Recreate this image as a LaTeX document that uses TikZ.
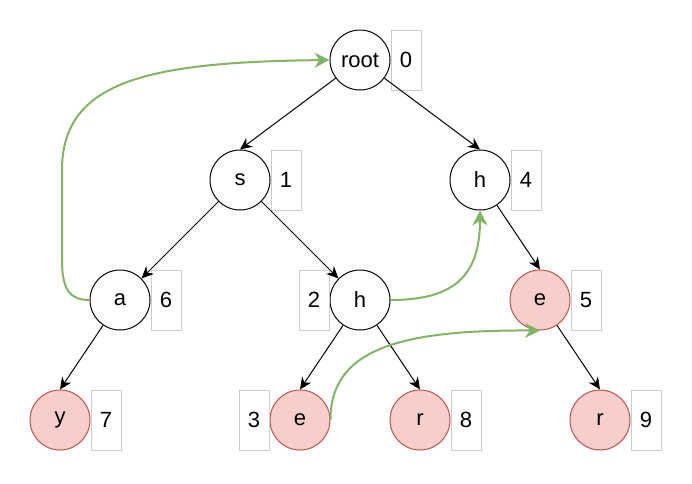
\documentclass[tikz,border=0pt]{standalone}
\usepackage{fontspec}
\setmainfont{Liberation Sans}
\usetikzlibrary{positioning, arrows.meta}

\begin{document}
\begin{tikzpicture}[x=1pt, y=-1pt, font=\fontsize{22}{26}\selectfont,
  trnode/.style={circle, draw, line width=1pt, minimum size=60pt, inner sep=0pt},
  endnode/.style={trnode, draw=endStroke, fill=endFill},
  idxbox/.style={rectangle, draw=idxGray, line width=1pt, minimum width=30pt, minimum height=60pt, inner sep=0pt},
  edge/.style={-{Stealth[length=12pt, width=11pt]}, line width=1pt},
  link/.style={-{Stealth[length=15pt, width=15pt]}, draw=linkGreen, line width=2pt}]

\definecolor{endFill}{HTML}{F8CECC}
\definecolor{endStroke}{HTML}{B85450}
\definecolor{idxGray}{HTML}{CCCCCC}
\definecolor{linkGreen}{HTML}{82B366}

\useasboundingbox (0,0) rectangle (692,483);

% trie nodes
\node[trnode]  (root) at (360,60)  {root};
\node[trnode]  (s)    at (240,180) {s};
\node[trnode]  (h)    at (480,180) {h};
\node[trnode]  (a)    at (120,300) {a};
\node[trnode]  (sh)   at (360,300) {h};
\node[endnode] (e)    at (540,300) {e};
\node[endnode] (y)    at (60,420)  {y};
\node[endnode] (she)  at (300,420) {e};
\node[endnode] (shr)  at (420,420) {r};
\node[endnode] (her)  at (600,420) {r};

% index boxes
\node[idxbox, right=0pt of root] (idx0) {0};
\node[idxbox, right=0pt of s]    (idx1) {1};
\node[idxbox, left=0pt of sh]    (idx2) {2};
\node[idxbox, left=0pt of she]   (idx3) {3};
\node[idxbox, right=0pt of h]    (idx4) {4};
\node[idxbox, right=0pt of e]    (idx5) {5};
\node[idxbox, right=0pt of a]    (idx6) {6};
\node[idxbox, right=0pt of y]    (idx7) {7};
\node[idxbox, right=0pt of shr]  (idx8) {8};
\node[idxbox, right=0pt of her]  (idx9) {9};

% tree edges
\draw[edge] (root) -- (s.north);
\draw[edge] (root) -- (h.north);
\draw[edge] (s) -- (a);
\draw[edge] (s) -- (sh);
\draw[edge] (h) -- (e.north);
\draw[edge] (a) -- (y.north);
\draw[edge] (sh) -- (she.north);
\draw[edge] (sh) -- (shr.north);
\draw[edge] (e) -- (her.north);

% failure links
\draw[link] (a.west) .. controls (70,300) and (62,290) .. (62,260)
  -- (62,170) .. controls (62,80) and (150,62) .. (root.west);
\draw[link] (sh.east) .. controls (455,300) and (480,275) .. (h.south);
\draw[link] (she.east) .. controls (330,345) and (410,330) .. (e.south);

\end{tikzpicture}
\end{document}
